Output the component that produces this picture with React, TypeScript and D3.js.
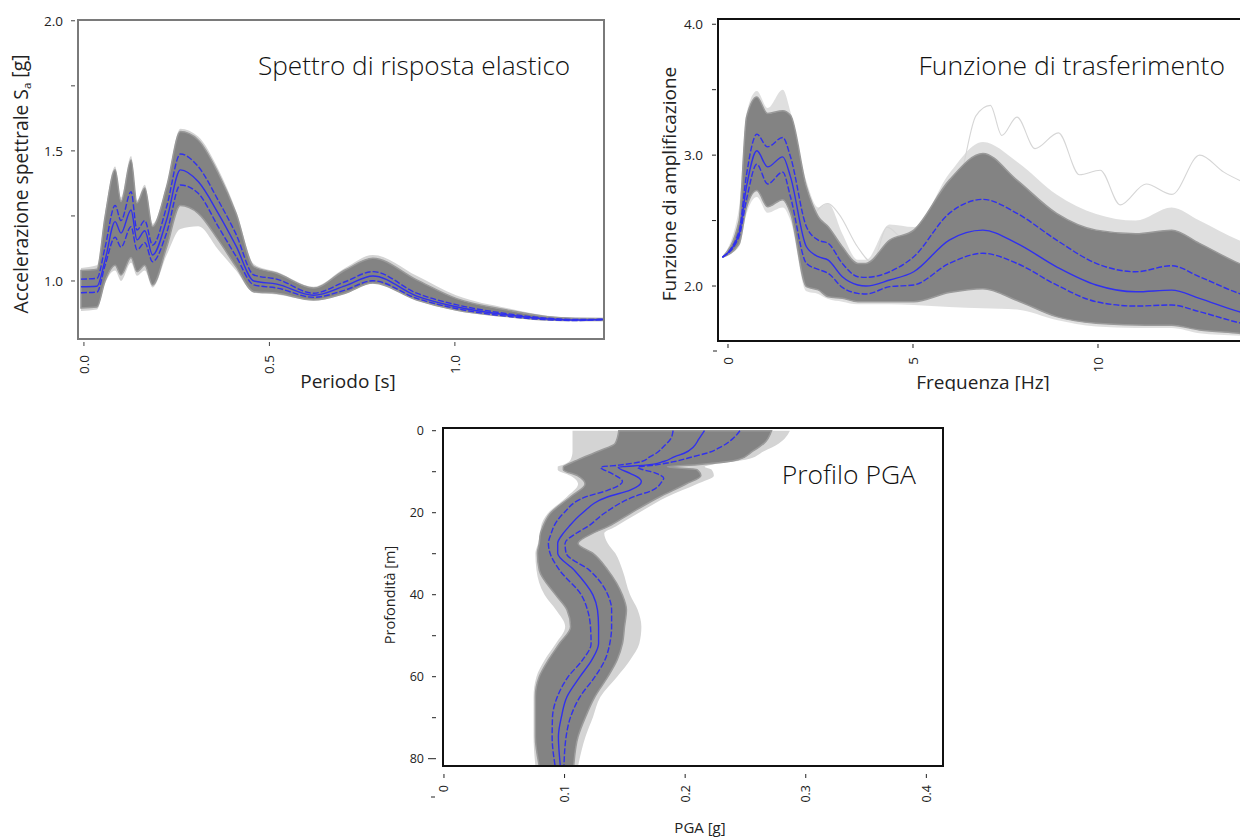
import React from 'react';
import * as d3 from 'd3';

// ---------- Spettro di risposta elastico ----------
const periodi = [-0.008, 0.035, 0.057, 0.084, 0.1, 0.127, 0.143, 0.164, 0.185, 0.223, 0.26, 0.308, 0.362, 0.41, 0.458, 0.52, 0.619, 0.704, 0.779, 0.897, 1.003, 1.143, 1.25, 1.324, 1.404];
const spettroMedia = [0.978, 0.98, 1.08, 1.228, 1.184, 1.273, 1.158, 1.193, 1.1, 1.235, 1.427, 1.382, 1.26, 1.135, 1.0, 0.988, 0.945, 0.981, 1.019, 0.942, 0.901, 0.869, 0.854, 0.85, 0.852];
const spettroSup = [1.007, 1.01, 1.13, 1.29, 1.232, 1.343, 1.196, 1.232, 1.138, 1.286, 1.488, 1.44, 1.31, 1.18, 1.023, 1.007, 0.953, 0.997, 1.036, 0.953, 0.909, 0.874, 0.857, 0.852, 0.853];
const spettroInf = [0.955, 0.957, 1.06, 1.168, 1.13, 1.209, 1.12, 1.147, 1.074, 1.185, 1.369, 1.337, 1.209, 1.095, 0.985, 0.973, 0.937, 0.965, 1.001, 0.933, 0.894, 0.864, 0.851, 0.848, 0.851];
const spettroFasciaSup = [1.04, 1.045, 1.247, 1.427, 1.305, 1.465, 1.3, 1.357, 1.209, 1.363, 1.574, 1.542, 1.415, 1.26, 1.055, 1.03, 0.973, 1.042, 1.087, 1.004, 0.933, 0.888, 0.863, 0.857, 0.856];
const spettroFasciaInf = [0.896, 0.9, 1.0, 1.06, 1.023, 1.09, 1.036, 1.06, 0.985, 1.13, 1.29, 1.26, 1.158, 1.055, 0.959, 0.953, 0.927, 0.953, 0.992, 0.927, 0.888, 0.863, 0.85, 0.848, 0.848];
const spettroChiaroSup = [1.05, 1.06, 1.26, 1.44, 1.32, 1.48, 1.31, 1.37, 1.22, 1.37, 1.585, 1.555, 1.43, 1.27, 1.065, 1.035, 0.978, 1.05, 1.1, 1.02, 0.945, 0.895, 0.866, 0.858, 0.857];
const spettroChiaroInf = [0.885, 0.89, 0.99, 1.04, 1.0, 1.07, 1.02, 1.04, 0.975, 1.1, 1.2, 1.21, 1.12, 1.04, 0.955, 0.948, 0.925, 0.95, 0.99, 0.925, 0.886, 0.862, 0.849, 0.848, 0.847];
const spettroTickY = [1.0, 1.5, 2.0];
const spettroTickYMinori = [1.25, 1.75];
const spettroTickX = [0, 0.5, 1.0];
const spettroTickXLabel = ['0.0', '0.5', '1.0'];

// ---------- Funzione di trasferimento ----------
const frequenze = [-0.15, 0.3, 0.5, 0.78, 1.07, 1.48, 1.69, 2.12, 2.44, 2.71, 3.09, 3.51, 3.73, 4.37, 5.02, 5.98, 6.89, 7.81, 8.88, 9.95, 11.02, 11.99, 12.74, 13.81, 14.3];
const trasfMedia = [2.22, 2.4, 2.76, 3.033, 2.91, 2.987, 2.834, 2.3, 2.224, 2.198, 2.071, 2.008, 2.0, 2.046, 2.109, 2.351, 2.427, 2.326, 2.147, 2.008, 1.956, 1.969, 1.906, 1.804, 1.77];
const trasfSup = [2.22, 2.42, 2.85, 3.16, 3.063, 3.135, 2.987, 2.453, 2.351, 2.326, 2.173, 2.071, 2.066, 2.109, 2.224, 2.555, 2.662, 2.555, 2.351, 2.173, 2.109, 2.155, 2.071, 1.944, 1.9];
const trasfInf = [2.22, 2.38, 2.66, 2.93, 2.78, 2.87, 2.68, 2.173, 2.127, 2.097, 1.99, 1.944, 1.939, 1.995, 2.008, 2.173, 2.25, 2.173, 2.008, 1.88, 1.847, 1.855, 1.804, 1.72, 1.69];
const trasfFasciaSup = [2.22, 2.5, 3.29, 3.445, 3.318, 3.34, 3.305, 2.758, 2.53, 2.453, 2.3, 2.173, 2.173, 2.351, 2.427, 2.809, 3.013, 2.809, 2.555, 2.427, 2.4, 2.427, 2.326, 2.173, 2.12];
const trasfFasciaInf = [2.22, 2.32, 2.6, 2.73, 2.605, 2.66, 2.557, 1.995, 1.97, 1.918, 1.906, 1.88, 1.88, 1.88, 1.88, 1.95, 1.98, 1.89, 1.766, 1.715, 1.702, 1.7, 1.664, 1.639, 1.625];
const trasfChiaroSup = [2.22, 2.6, 3.32, 3.49, 3.36, 3.5, 3.33, 2.8, 2.6, 2.63, 2.4, 2.2, 2.2, 2.47, 2.45, 2.86, 3.1, 2.95, 2.7, 2.55, 2.5, 2.6, 2.5, 2.35, 2.3];
const trasfChiaroInf = [2.22, 2.3, 2.55, 2.68, 2.56, 2.6, 2.5, 1.96, 1.94, 1.9, 1.88, 1.86, 1.86, 1.86, 1.855, 1.84, 1.83, 1.82, 1.74, 1.69, 1.68, 1.68, 1.64, 1.62, 1.61];
const outlierFreqA = [5.6, 6.3, 6.7, 7.09, 7.4, 7.81, 8.3, 8.93, 9.5, 10.06, 10.6, 11.3, 12.0, 12.75, 13.4, 14.3];
const outlierValA = [2.45, 2.85, 3.3, 3.38, 3.15, 3.29, 3.05, 3.17, 2.85, 2.885, 2.62, 2.78, 2.7, 3.0, 2.87, 2.75];
const outlierFreqB = [2.2, 2.7, 3.0, 3.5, 3.9, 4.3, 4.8, 5.3];
const outlierValB = [2.5, 2.63, 2.55, 2.3, 2.18, 2.45, 2.35, 2.4];
const trasfTickY = [2.0, 3.0, 4.0];
const trasfTickYMinori = [2.5, 3.5];
const trasfTickX = [0, 5, 10];
const trasfTickXLabel = ['0', '5', '10'];

// ---------- Profilo PGA ----------
const profBlu = [0, 2, 3.9, 5.5, 6.3, 7.5, 8.4, 8.9, 10.4, 11.6, 12.4, 14.5, 16.1, 20.2, 23.4, 25, 27.5, 29.9, 34, 40.1, 43.7, 47.8, 51.9, 55.9, 60, 64.9, 69.8, 74.6, 81.8];
const pgaInf = [0.19, 0.188, 0.182, 0.176, 0.171, 0.164, 0.145, 0.13, 0.139, 0.146, 0.148, 0.136, 0.118, 0.099, 0.091, 0.089, 0.0866, 0.088, 0.0958, 0.114, 0.119, 0.1215, 0.122, 0.115, 0.103, 0.094, 0.09, 0.0897, 0.0922];
const pgaMedia = [0.216, 0.2114, 0.207, 0.1992, 0.1914, 0.1822, 0.1668, 0.1445, 0.1544, 0.162, 0.1637, 0.1544, 0.136, 0.1143, 0.1036, 0.099, 0.0943, 0.0943, 0.108, 0.1236, 0.1273, 0.1282, 0.1282, 0.1226, 0.1128, 0.102, 0.0974, 0.0949, 0.0965];
const pgaSup = [0.2454, 0.2393, 0.23, 0.2176, 0.207, 0.1914, 0.1744, 0.1606, 0.176, 0.1822, 0.1807, 0.173, 0.1575, 0.1327, 0.119, 0.1097, 0.1004, 0.1013, 0.1205, 0.136, 0.139, 0.139, 0.1375, 0.1335, 0.1252, 0.1128, 0.105, 0.1013, 0.0995];
const profFascia = [0, 3.1, 5, 7.1, 8.3, 8.8, 9.5, 11, 13, 16.1, 20.2, 23.4, 25, 27.5, 29.9, 34, 40.1, 43.7, 47.8, 51.9, 55.9, 60, 64.9, 69.8, 74.6, 81.8];
const pgaFasciaInf = [0.145, 0.142, 0.128, 0.111, 0.102, 0.099, 0.099, 0.111, 0.117, 0.105, 0.088, 0.082, 0.08, 0.079, 0.0775, 0.079, 0.0928, 0.102, 0.105, 0.0958, 0.0866, 0.079, 0.0758, 0.0758, 0.0758, 0.079];
const pgaFasciaSup = [0.2716, 0.2653, 0.2561, 0.2438, 0.2098, 0.1852, 0.2098, 0.213, 0.2007, 0.179, 0.1544, 0.1359, 0.1236, 0.1112, 0.1236, 0.1359, 0.148, 0.1513, 0.1497, 0.148, 0.1436, 0.1359, 0.1251, 0.1174, 0.1112, 0.1076];
const pgaChiaroInf = [0.1066, 0.1066, 0.1066, 0.105, 0.099, 0.0943, 0.0943, 0.105, 0.1112, 0.102, 0.086, 0.0804, 0.0798, 0.078, 0.0758, 0.0767, 0.0835, 0.0928, 0.1005, 0.0928, 0.0835, 0.0767, 0.0743, 0.0743, 0.0743, 0.0758];
const pgaChiaroSup = [0.2869, 0.2777, 0.2653, 0.25, 0.2222, 0.2161, 0.222, 0.2238, 0.2098, 0.1852, 0.1606, 0.1421, 0.1329, 0.1359, 0.1421, 0.148, 0.1544, 0.1606, 0.1637, 0.162, 0.1544, 0.1436, 0.1298, 0.1236, 0.1174, 0.1112];
const profTickY = [0, 20, 40, 60, 80];
const profTickYMinori = [10, 30, 50, 70];
const pgaTickX = [0, 0.1, 0.2, 0.3, 0.4];
const pgaTickXLabel = ['0', '0.1', '0.2', '0.3', '0.4'];

const FONT = "'Open Sans', 'DejaVu Sans', sans-serif";
const GRIGIO = '#838383';
const GRIGIO_CHIARO = '#d4d4d4';
const BLU = '#3030ee';

const P1 = { left: 78, right: 604, top: 20, bottom: 339 };
const P2 = { left: 718, right: 1246, top: 19, bottom: 341 };
const P3 = { left: 443, right: 943, top: 428, bottom: 766 };

const x1 = d3.scaleLinear().domain([-0.016, 1.402]).range([P1.left, P1.right]);
const y1 = d3.scaleLinear().domain([0.777, 2.003]).range([P1.bottom, P1.top]);
const x2 = d3.scaleLinear().domain([-0.27, 14.0]).range([P2.left, P2.right]);
const y2 = d3.scaleLinear().domain([1.58, 4.04]).range([P2.bottom, P2.top]);
const x3 = d3.scaleLinear().domain([-0.0008, 0.4138]).range([P3.left, P3.right]);
const y3 = d3.scaleLinear().domain([-0.66, 81.78]).range([P3.top, P3.bottom]);

// fascia orizzontale (x indipendente)
const fasciaX = (xs: number[], lo: number[], hi: number[], sx: any, sy: any) =>
  d3.area<number>()
    .x(i => sx(xs[i]))
    .y0(i => sy(lo[i]))
    .y1(i => sy(hi[i]))
    .curve(d3.curveMonotoneX)(xs.map((_, i) => i)) || '';

const lineaX = (xs: number[], ys: number[], sx: any, sy: any) =>
  d3.line<number>()
    .x(i => sx(xs[i]))
    .y(i => sy(ys[i]))
    .curve(d3.curveMonotoneX)(xs.map((_, i) => i)) || '';

// fascia verticale (profondità indipendente)
const fasciaY = (ds: number[], lo: number[], hi: number[]) =>
  d3.area<number>()
    .y(i => y3(ds[i]))
    .x0(i => x3(lo[i]))
    .x1(i => x3(hi[i]))
    .curve(d3.curveMonotoneY)(ds.map((_, i) => i)) || '';

const lineaY = (ds: number[], vs: number[]) =>
  d3.line<number>()
    .y(i => y3(ds[i]))
    .x(i => x3(vs[i]))
    .curve(d3.curveMonotoneY)(ds.map((_, i) => i)) || '';

const Blu = ({ d, dashed }: { d: string; dashed?: boolean }) => (
  <path d={d} fill="none" stroke={BLU} strokeWidth={1.4} strokeDasharray={dashed ? '6,2' : undefined} />
);

export default function App() {
  const fmt1 = d3.format('.1f');
  return (
    <svg width={1240} height={839} style={{ position: 'absolute', left: 0, top: 0, background: '#fff' }} fontFamily={FONT}>
      <defs>
        <clipPath id="c1"><rect x={P1.left} y={P1.top} width={P1.right - P1.left} height={P1.bottom - P1.top} /></clipPath>
        <clipPath id="c2"><rect x={P2.left} y={P2.top} width={P2.right - P2.left} height={P2.bottom - P2.top} /></clipPath>
        <clipPath id="c3"><rect x={P3.left} y={P3.top} width={P3.right - P3.left} height={P3.bottom - P3.top} /></clipPath>
        <clipPath id="riga"><rect x={0} y={0} width={1240} height={391} /></clipPath>
      </defs>

      {/* ===== Spettro di risposta elastico ===== */}
      <g clipPath="url(#riga)">
        <g clipPath="url(#c1)">
          <path d={fasciaX(periodi, spettroChiaroInf, spettroChiaroSup, x1, y1)} fill={GRIGIO_CHIARO} />
          <path d={fasciaX(periodi, spettroFasciaInf, spettroFasciaSup, x1, y1)} fill={GRIGIO} stroke="#9a9a9a" strokeWidth={1.5} />
          <Blu d={lineaX(periodi, spettroSup, x1, y1)} dashed />
          <Blu d={lineaX(periodi, spettroMedia, x1, y1)} />
          <Blu d={lineaX(periodi, spettroInf, x1, y1)} dashed />
        </g>
        <rect x={P1.left} y={P1.top} width={P1.right - P1.left} height={P1.bottom - P1.top} fill="none" stroke="#7a7a7a" strokeWidth={2} />
        {spettroTickY.map(t => (
          <g key={t}>
            <line x1={P1.left - 7} x2={P1.left - 3} y1={y1(t)} y2={y1(t)} stroke="#444" />
            <text x={P1.left - 15} y={y1(t)} dy="0.35em" textAnchor="end" fontSize={13.5} fill="#222">{fmt1(t)}</text>
          </g>
        ))}
        {spettroTickYMinori.map(t => (
          <line key={t} x1={P1.left - 7} x2={P1.left - 3} y1={y1(t)} y2={y1(t)} stroke="#444" />
        ))}
        {spettroTickX.map((t, i) => (
          <g key={t}>
            <line x1={x1(t)} x2={x1(t)} y1={P1.bottom + 3} y2={P1.bottom + 7} stroke="#444" />
            <text transform={`translate(${x1(t)},${P1.bottom + 16}) rotate(-90)`} dy="0.35em" textAnchor="end" fontSize={13.5} fill="#222">{spettroTickXLabel[i]}</text>
          </g>
        ))}
        <text x={258} y={75} fontSize={26.2} fontWeight={300} fill="#111">Spettro di risposta elastico</text>
        <text transform="translate(28,184) rotate(-90)" textAnchor="middle" fontSize={19.3} fill="#222">
          Accelerazione spettrale S<tspan fontSize="0.6em" dy="0.3em">a</tspan><tspan dy="-0.3em"> [g]</tspan>
        </text>
        <text x={348} y={388} textAnchor="middle" fontSize={19} fill="#222">Periodo [s]</text>

        {/* ===== Funzione di trasferimento ===== */}
        <g clipPath="url(#c2)">
          <path d={fasciaX(frequenze, trasfChiaroInf, trasfChiaroSup, x2, y2)} fill={GRIGIO_CHIARO} opacity={0.75} />
          <path d={lineaX(outlierFreqA, outlierValA, x2, y2)} fill="none" stroke="#d6d6d6" strokeWidth={1.1} />
          <path d={lineaX(outlierFreqB, outlierValB, x2, y2)} fill="none" stroke="#d6d6d6" strokeWidth={1.1} />
          <path d={fasciaX(frequenze, trasfFasciaInf, trasfFasciaSup, x2, y2)} fill={GRIGIO} stroke="#9a9a9a" strokeWidth={1.5} />
          <Blu d={lineaX(frequenze, trasfSup, x2, y2)} dashed />
          <Blu d={lineaX(frequenze, trasfMedia, x2, y2)} />
          <Blu d={lineaX(frequenze, trasfInf, x2, y2)} dashed />
        </g>
        <rect x={P2.left} y={P2.top} width={P2.right - P2.left} height={P2.bottom - P2.top} fill="none" stroke="#111" strokeWidth={2} />
        {trasfTickY.map(t => (
          <g key={t}>
            <line x1={P2.left - 6} x2={P2.left - 2} y1={y2(t)} y2={y2(t)} stroke="#222" />
            <text x={P2.left - 15} y={y2(t)} dy="0.35em" textAnchor="end" fontSize={13.5} fill="#222">{fmt1(t)}</text>
          </g>
        ))}
        {trasfTickYMinori.map(t => (
          <line key={t} x1={P2.left - 6} x2={P2.left - 2} y1={y2(t)} y2={y2(t)} stroke="#222" />
        ))}
        {trasfTickX.map((t, i) => (
          <g key={t}>
            <line x1={x2(t)} x2={x2(t)} y1={P2.bottom + 3} y2={P2.bottom + 7} stroke="#222" />
            <text transform={`translate(${x2(t)},${P2.bottom + 16}) rotate(-90)`} dy="0.35em" textAnchor="end" fontSize={13.5} fill="#222">{trasfTickXLabel[i]}</text>
          </g>
        ))}
        <line x1={P2.left - 5} x2={P2.left - 1} y1={P2.bottom + 10} y2={P2.bottom + 10} stroke="#222" />
        <text x={1225} y={75} textAnchor="end" fontSize={26.5} fontWeight={300} fill="#111">Funzione di trasferimento</text>
        <text transform="translate(676,184) rotate(-90)" textAnchor="middle" fontSize={19} fill="#222">Funzione di amplificazione</text>
        <text x={983} y={389} textAnchor="middle" fontSize={19} fill="#222">Frequenza [Hz]</text>
      </g>

      {/* ===== Profilo PGA ===== */}
      <g clipPath="url(#c3)">
        <path d={fasciaY(profFascia, pgaChiaroInf, pgaChiaroSup)} fill={GRIGIO_CHIARO} />
        <path d={fasciaY(profFascia, pgaFasciaInf, pgaFasciaSup)} fill={GRIGIO} stroke="#9a9a9a" strokeWidth={1.5} />
        <Blu d={lineaY(profBlu, pgaInf)} dashed />
        <Blu d={lineaY(profBlu, pgaMedia)} />
        <Blu d={lineaY(profBlu, pgaSup)} dashed />
      </g>
      <rect x={P3.left} y={P3.top} width={P3.right - P3.left} height={P3.bottom - P3.top} fill="none" stroke="#111" strokeWidth={2} />
      {profTickY.map(t => (
        <g key={t}>
          <line x1={P3.left - (t === 80 ? 15 : 11)} x2={P3.left - 7} y1={y3(t)} y2={y3(t)} stroke="#222" />
          <text x={P3.left - 19} y={y3(t)} dy="0.35em" textAnchor="end" fontSize={12.5} fill="#222">{t}</text>
        </g>
      ))}
      {profTickYMinori.map(t => (
        <line key={t} x1={P3.left - 11} x2={P3.left - 7} y1={y3(t)} y2={y3(t)} stroke="#222" />
      ))}
      {pgaTickX.map((t, i) => (
        <g key={t}>
          <line x1={x3(t)} x2={x3(t)} y1={P3.bottom + 8} y2={P3.bottom + 12} stroke="#222" />
          <text transform={`translate(${x3(t)},${P3.bottom + 19}) rotate(-90)`} dy="0.35em" textAnchor="end" fontSize={12.5} fill="#222">{pgaTickXLabel[i]}</text>
        </g>
      ))}
      <line x1={P3.left - 12} x2={P3.left - 8} y1={P3.bottom + 31} y2={P3.bottom + 31} stroke="#222" />
      <text x={916} y={484} textAnchor="end" fontSize={26.5} fontWeight={300} fill="#111">Profilo PGA</text>
      <text transform="translate(395,595) rotate(-90)" textAnchor="middle" fontSize={14.5} fill="#222">Profondità [m]</text>
      <text x={700} y={833} textAnchor="middle" fontSize={15} fill="#222">PGA [g]</text>
    </svg>
  );
}
